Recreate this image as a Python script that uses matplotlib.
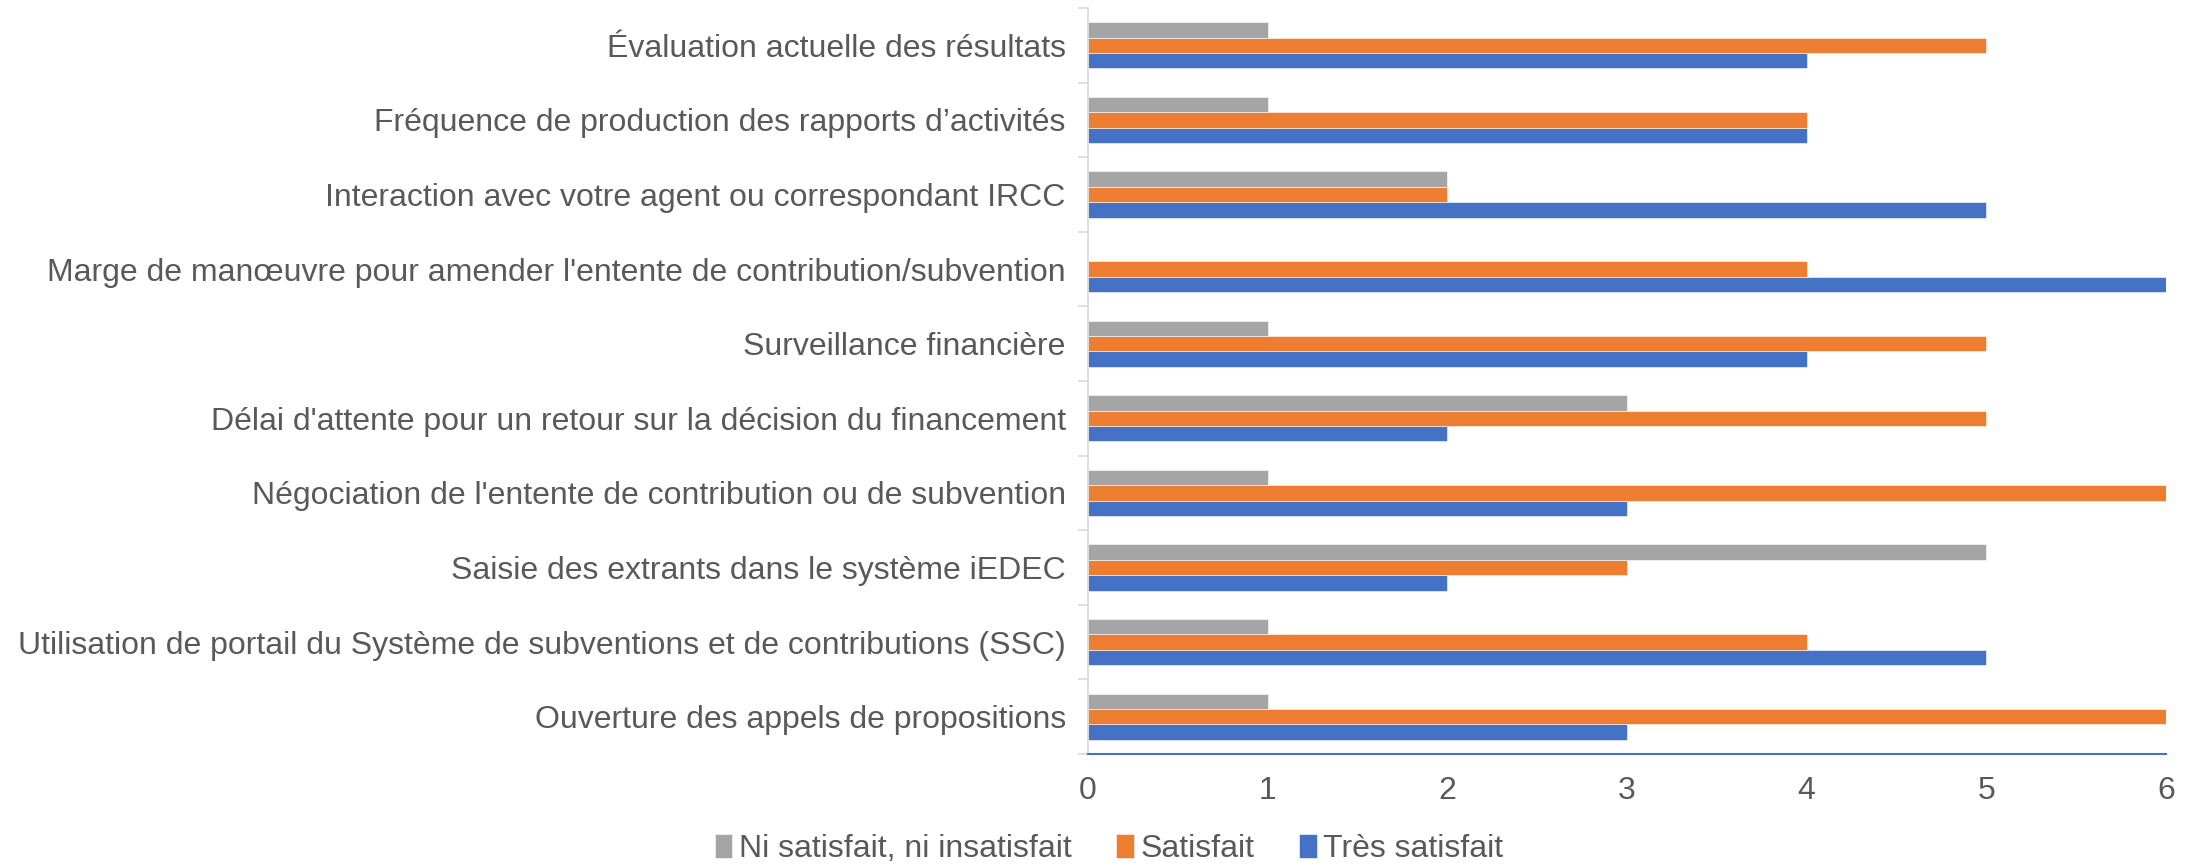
import matplotlib.pyplot as plt
import numpy as np

plt.rcParams['font.family'] = ['Liberation Sans', 'DejaVu Sans']

# categories from bottom to top (Excel order)
categories = [
    "Ouverture des appels de propositions",
    "Utilisation de portail du Système de subventions et de contributions (SSC)",
    "Saisie des extrants dans le système iEDEC",
    "Négociation de l'entente de contribution ou de subvention",
    "Délai d'attente pour un retour sur la décision du financement",
    "Surveillance financière",
    "Marge de manœuvre pour amender l'entente de contribution/subvention",
    "Interaction avec votre agent ou correspondant IRCC",
    "Fréquence de production des rapports d’activités",
    "Évaluation actuelle des résultats",
]
tres_satisfait = [3, 5, 2, 3, 2, 4, 6, 5, 4, 4]
satisfait = [6, 4, 3, 6, 5, 5, 4, 2, 4, 5]
ni_ni = [1, 1, 5, 1, 3, 1, 0, 2, 1, 1]

series = [
    ("Très satisfait", tres_satisfait, "#4472C4"),
    ("Satisfait", satisfait, "#ED7D31"),
    ("Ni satisfait, ni insatisfait", ni_ni, "#A5A5A5"),
]

text_color = "#595959"
fig = plt.figure(figsize=(22.01, 8.66), dpi=100)
ax = fig.add_axes([1088 / 2201, 1 - 754 / 866, (2166 - 1088) / 2201, (754 - 8) / 866])

y = np.arange(len(categories))
h = 0.207
handles = []
for i, (name, vals, color) in enumerate(series):
    b = ax.barh(y + (i - 1) * h, vals, height=h, color=color, edgecolor="white", linewidth=0.4, label=name)
    handles.append(b)

ax.set_xlim(0, 6)
ax.set_ylim(-0.5, len(categories) - 0.5)
ax.set_xticks(range(7))
ax.set_yticks(y)
ax.set_yticklabels(categories)
ax.set_yticks(np.arange(-0.5, len(categories), 1), minor=True)
ax.tick_params(axis="y", which="major", length=0, pad=16, labelsize=23, labelcolor=text_color)
ax.tick_params(axis="y", which="minor", length=7, width=1.2, color="#D9D9D9")
ax.tick_params(axis="x", length=0, pad=16, labelsize=23, labelcolor=text_color)

for s in ["top", "right"]:
    ax.spines[s].set_visible(False)
ax.spines["left"].set_color("#D9D9D9")
ax.spines["left"].set_linewidth(1.2)
ax.spines["bottom"].set_color("#4472C4")
ax.spines["bottom"].set_linewidth(1.5)

fig.legend(handles[::-1], [s[0] for s in series[::-1]], loc="center", bbox_to_anchor=(1109 / 2201, 1 - 849 / 866),
           ncol=3, frameon=False, fontsize=23, labelcolor=text_color, handlelength=0.55, handleheight=0.75,
           handletextpad=0.2, columnspacing=1.4)

fig.savefig("out.png", dpi=100)
